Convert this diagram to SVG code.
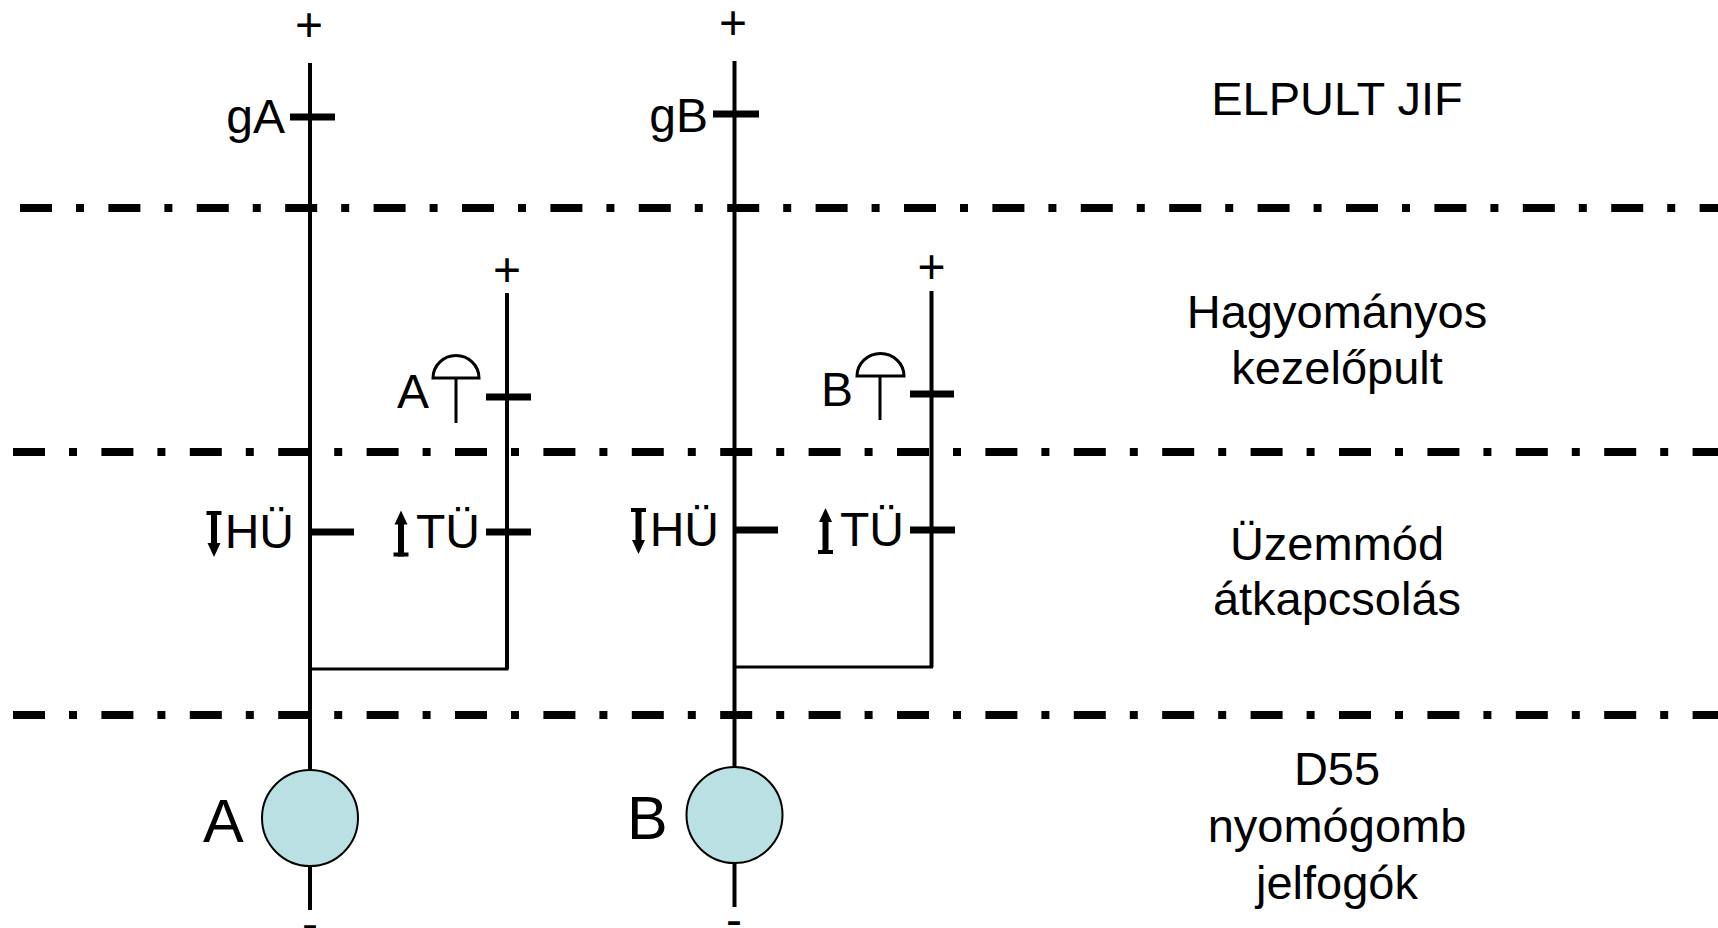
<svg xmlns="http://www.w3.org/2000/svg" width="1718" height="928" viewBox="0 0 1718 928">
<style>
text{font-family:"Liberation Sans",Arial,sans-serif;fill:#000}
.lbl{font-size:48px}
.sec{font-size:47px;text-anchor:middle}
.big{font-size:61px}
.end{text-anchor:end}
.mid{text-anchor:middle}
.wire{stroke:#000;stroke-width:4;fill:none}
.thin{stroke:#000;stroke-width:3;fill:none}
.tick{stroke:#000;stroke-width:7;fill:none}
.sep{stroke:#000;stroke-width:8;fill:none;stroke-dasharray:32 24 8 24.4}
.relay{fill:#BBE0E3;stroke:#000;stroke-width:2}
</style>
<defs>
<g id="arrDown"><rect x="-7.5" y="0" width="15" height="4"/><rect x="-3" y="0" width="6" height="33"/><polygon points="-6.5,32 6.5,32 0,46"/></g>
<g id="arrUp"><rect x="-7.5" y="-4" width="15" height="4"/><rect x="-3" y="-33" width="6" height="33"/><polygon points="-6.5,-32 6.5,-32 0,-46"/></g>
</defs>
<rect width="1718" height="928" fill="#fff"/>
<g id="separators">
<line class="sep" x1="20" y1="208" x2="1718" y2="208"/>
<line class="sep" x1="13" y1="452" x2="1718" y2="452"/>
<line class="sep" x1="13" y1="715" x2="1718" y2="715"/>
</g>
<g id="connectors">
<line class="wire" x1="310" y1="63" x2="310" y2="771"/>
<line class="wire" x1="310" y1="866" x2="310" y2="910"/>
<line class="wire" x1="507" y1="293" x2="507" y2="669"/>
<line class="thin" x1="310" y1="669" x2="508.5" y2="669"/>
<line class="wire" x1="734.5" y1="61" x2="734.5" y2="767"/>
<line class="wire" x1="734.5" y1="863" x2="734.5" y2="907"/>
<line class="wire" x1="931.5" y1="291" x2="931.5" y2="667"/>
<line class="thin" x1="734.5" y1="667" x2="933" y2="667"/>
</g>
<g id="supplyA">
<text class="lbl mid" x="309" y="41">+</text>
<text class="lbl mid" x="310" y="940">-</text>
<text class="lbl mid" x="507" y="286">+</text>
</g>
<g id="supplyB">
<text class="lbl mid" x="733" y="39">+</text>
<text class="lbl mid" x="734" y="936">-</text>
<text class="lbl mid" x="931.5" y="283">+</text>
</g>
<g id="contact-gA">
<line class="tick" x1="290" y1="117" x2="335" y2="117"/>
<text class="lbl end" x="285" y="133">gA</text>
</g>
<g id="contact-gB">
<line class="tick" x1="713" y1="114" x2="759" y2="114"/>
<text class="lbl end" x="708" y="131.5">gB</text>
</g>
<g id="button-A">
<line class="tick" x1="486" y1="397" x2="531" y2="397"/>
<path class="thin" d="M433,378 A23,22.5 0 0 1 479,378 Z"/>
<line class="thin" x1="456" y1="378" x2="456" y2="423"/>
<text class="lbl end" x="429" y="408">A</text>
</g>
<g id="button-B">
<line class="tick" x1="910" y1="394" x2="954" y2="394"/>
<path class="thin" d="M857,376 A23.5,22.5 0 0 1 904,376 Z"/>
<line class="thin" x1="880" y1="376" x2="880" y2="420"/>
<text class="lbl end" x="853" y="405.5">B</text>
</g>
<g id="contact-HU-A">
<line class="tick" x1="310" y1="532" x2="354" y2="532"/>
<use href="#arrDown" x="214" y="511"/>
<text class="lbl end" x="294" y="548">HÜ</text>
</g>
<g id="contact-TU-A">
<line class="tick" x1="486" y1="532" x2="531" y2="532"/>
<use href="#arrUp" x="401" y="556.5"/>
<text class="lbl end" x="480" y="548">TÜ</text>
</g>
<g id="contact-HU-B">
<line class="tick" x1="734.5" y1="530" x2="778" y2="530"/>
<use href="#arrDown" x="638.5" y="508"/>
<text class="lbl end" x="719" y="546">HÜ</text>
</g>
<g id="contact-TU-B">
<line class="tick" x1="910" y1="530" x2="955" y2="530"/>
<use href="#arrUp" x="825.5" y="554"/>
<text class="lbl end" x="904" y="546">TÜ</text>
</g>
<g id="relay-A">
<circle class="relay" cx="310" cy="818" r="48"/>
<text class="big" x="203" y="841.5">A</text>
</g>
<g id="relay-B">
<circle class="relay" cx="734.5" cy="815" r="48"/>
<text class="big" x="627" y="838.5">B</text>
</g>
<g id="section-labels">
<text class="sec" x="1337" y="115">ELPULT JIF</text>
<text class="sec" x="1337" y="328">Hagyományos</text>
<text class="sec" x="1337" y="383.5">kezelőpult</text>
<text class="sec" x="1337" y="560">Üzemmód</text>
<text class="sec" x="1337" y="615">átkapcsolás</text>
<text class="sec" x="1337" y="785">D55</text>
<text class="sec" x="1337" y="842">nyomógomb</text>
<text class="sec" x="1337" y="898.5">jelfogók</text>
</g>
</svg>
